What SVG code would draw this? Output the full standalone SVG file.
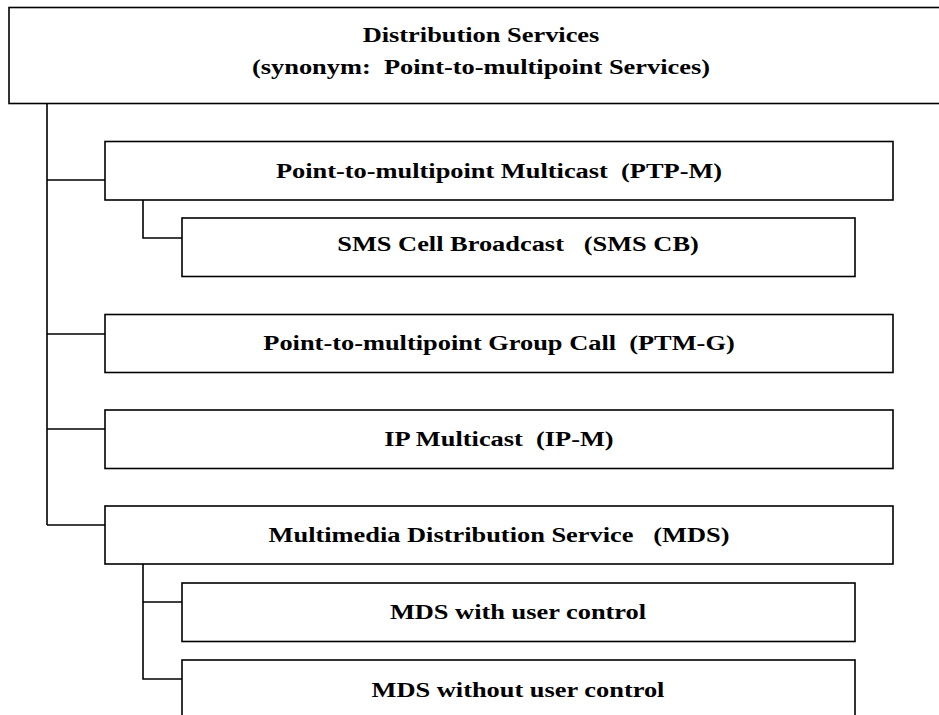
<svg xmlns="http://www.w3.org/2000/svg" width="939" height="715" viewBox="0 0 939 715">
<style>
.box{fill:#fff;stroke:#000;stroke-width:1.6}
.lnk{fill:none;stroke:#000;stroke-width:1.6}
text{font-family:"Liberation Serif","Times New Roman",serif;font-weight:bold;font-size:22px;text-anchor:middle;white-space:pre}
</style>
<rect width="939" height="715" fill="#fff"/>
<g id="connectors">
<path class="lnk" d="M47,104 V525 M47,180 H105 M47,334 H105 M47,429 H105 M47,525 H105"/>
<path class="lnk" d="M143,200 V238 H182"/>
<path class="lnk" d="M143,564 V679 H182 M143,602 H182"/>
</g>
<g id="root"><rect class="box" x="9" y="7.5" width="945" height="96"/>
<text transform="translate(481,42) scale(1.2,1)">Distribution Services</text>
<text transform="translate(481,73.5) scale(1.2,1)">(synonym:  Point-to-multipoint Services)</text></g>
<g id="ptpm"><rect class="box" x="105" y="141.5" width="788" height="58.5"/>
<text transform="translate(499,178) scale(1.2,1)">Point-to-multipoint Multicast  (PTP-M)</text></g>
<g id="smscb"><rect class="box" x="182" y="218" width="673" height="58.5"/>
<text transform="translate(518,251) scale(1.2,1)">SMS Cell Broadcast   (SMS CB)</text></g>
<g id="ptmg"><rect class="box" x="105" y="314.5" width="788" height="58"/>
<text transform="translate(499,350) scale(1.2,1)">Point-to-multipoint Group Call  (PTM-G)</text></g>
<g id="ipm"><rect class="box" x="105" y="410" width="788" height="58.5"/>
<text transform="translate(499,446) scale(1.2,1)">IP Multicast  (IP-M)</text></g>
<g id="mds"><rect class="box" x="105" y="506" width="788" height="58"/>
<text transform="translate(499,541.5) scale(1.2,1)">Multimedia Distribution Service   (MDS)</text></g>
<g id="mdsuc"><rect class="box" x="182" y="583" width="673" height="58.5"/>
<text transform="translate(518,619) scale(1.2,1)">MDS with user control</text></g>
<g id="mdsnuc"><rect class="box" x="182" y="660" width="673" height="70"/>
<text transform="translate(518,696.5) scale(1.2,1)">MDS without user control</text></g>
</svg>
